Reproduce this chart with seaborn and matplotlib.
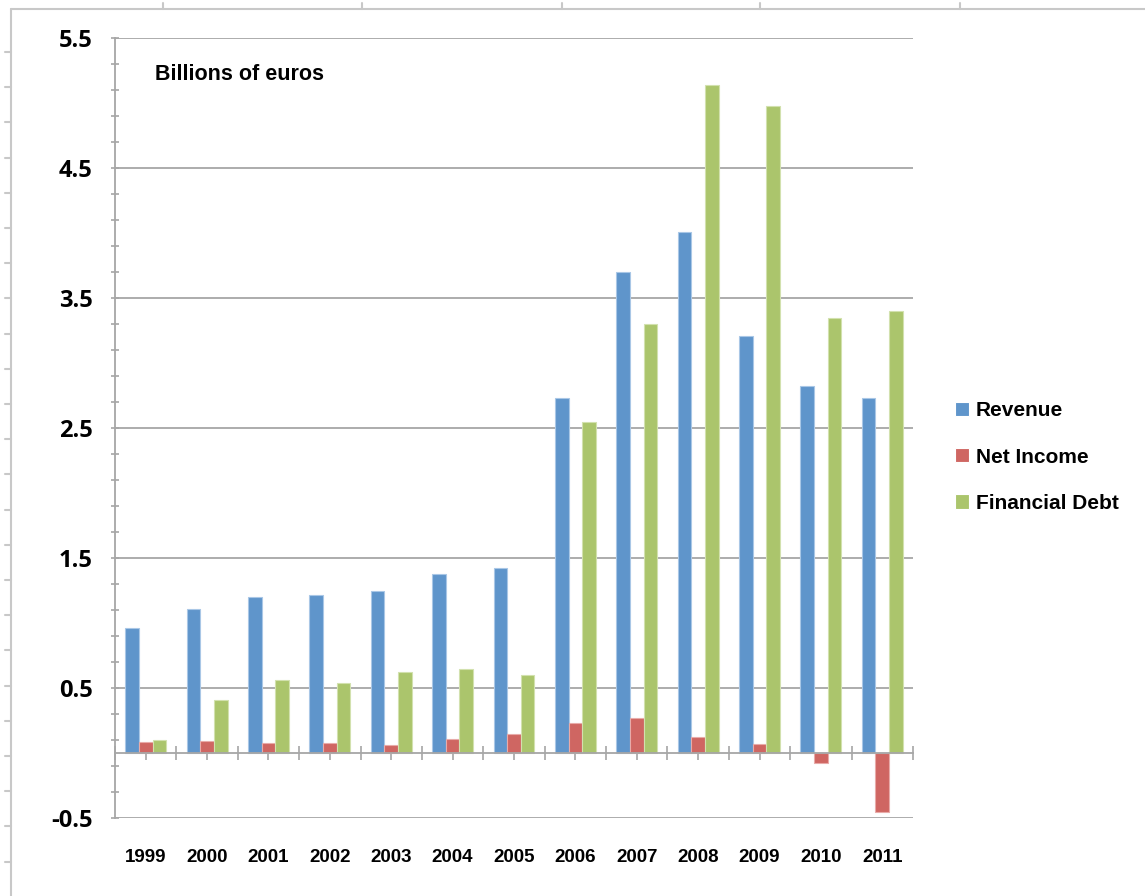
import numpy as np
import pandas as pd
import matplotlib
matplotlib.use("Agg")
import matplotlib.pyplot as plt
from matplotlib.lines import Line2D
from matplotlib.ticker import FixedLocator
import seaborn as sns

# Company figures, billions of euros
years = ["1999", "2000", "2001", "2002", "2003", "2004", "2005",
         "2006", "2007", "2008", "2009", "2010", "2011"]
revenue = [0.96, 1.11, 1.20, 1.215, 1.25, 1.38, 1.42,
           2.73, 3.70, 4.01, 3.21, 2.82, 2.73]
net_income = [0.085, 0.09, 0.08, 0.08, 0.06, 0.11, 0.15,
              0.23, 0.27, 0.12, 0.07, -0.08, -0.45]
financial_debt = [0.10, 0.41, 0.56, 0.54, 0.62, 0.65, 0.60,
                  2.55, 3.30, 5.14, 4.98, 3.35, 3.40]
series_names = ["Revenue", "Net Income", "Financial Debt"]
y_ticks = [-0.5, 0.5, 1.5, 2.5, 3.5, 4.5, 5.5]

colors = ["#5F95CB", "#CF6662", "#ABC56C"]
edge_colors = ["#A9C7E6", "#E8ABA9", "#D2E1AE"]
grey = "#A6A6A6"

df = pd.DataFrame({
    "year": years * 3,
    "series": np.repeat(series_names, len(years)),
    "value": revenue + net_income + financial_debt,
})

sns.set_style("white")
plt.rcParams["font.family"] = ["Liberation Sans", "DejaVu Sans"]
plt.rcParams["text.color"] = "black"
plt.rcParams["xtick.labelcolor"] = "black"
plt.rcParams["ytick.labelcolor"] = "black"

W, H = 1145, 896
fig = plt.figure(figsize=(W / 100, H / 100), dpi=100)
ax = fig.add_axes([115 / W, 1 - 818 / H, (913 - 115) / W, (818 - 38) / H])

sns.barplot(data=df, x="year", y="value", hue="series", order=years,
            hue_order=series_names, palette=colors, saturation=1,
            width=0.667, errorbar=None, ax=ax, linewidth=0.8)
for cont, ec in zip(ax.containers, edge_colors):
    for bar in cont:
        bar.set_edgecolor(ec)

ax.set_xlim(-0.5, len(years) - 0.5)
ax.set_ylim(-0.5, 5.5)
ax.set_xlabel("")
ax.set_ylabel("")

# y axis: major at x.5, minor every 0.2
ax.set_yticks(y_ticks)
ax.set_yticklabels([f"{v:.1f}" for v in y_ticks], fontfamily="Open Sans",
                   fontweight="bold", fontsize=17)
ax.yaxis.set_minor_locator(FixedLocator(np.arange(-0.5, 5.51, 0.2)))
ax.tick_params(axis="y", which="major", direction="inout", length=6,
               width=1.2, color=grey, pad=13, left=True)
ax.tick_params(axis="y", which="minor", direction="inout", length=6,
               width=1.2, color=grey, left=True)
ax.yaxis.grid(True, which="major", color=grey, linewidth=1.3)
ax.set_axisbelow(True)

# x axis sits at zero; year labels dropped below the plot
ax.spines["bottom"].set_position(("data", 0))
boundaries = np.arange(-0.5, len(years), 1.0)
centers = np.arange(len(years))
ax.set_xticks(boundaries)
ax.set_xticklabels([""] * len(boundaries))
ax.set_xticks(centers, minor=True)
ax.set_xticklabels(years, minor=True, fontweight="bold", fontsize=13.5)
ax.tick_params(axis="x", which="major", direction="inout", length=10,
               width=1.2, color=grey, bottom=True)
ax.tick_params(axis="x", which="minor", direction="out", length=5,
               width=1.2, color=grey, pad=64, bottom=True)

for side in ["top", "right"]:
    ax.spines[side].set_visible(False)
for side in ["left", "bottom"]:
    ax.spines[side].set_color(grey)
    ax.spines[side].set_linewidth(1.3)

ax.text(0.05, 0.9526, "Billions of euros", transform=ax.transAxes,
        va="center", ha="left", fontweight="bold", fontsize=15.5)

handles, labels = ax.get_legend_handles_labels()
ax.legend(handles, labels, loc="center left",
          bbox_to_anchor=(936 / W, 1 - 457 / H),
          bbox_transform=fig.transFigure, frameon=False,
          prop={"weight": "bold", "size": 15}, handlelength=0.7,
          handleheight=0.7, handletextpad=0.3, labelspacing=1.3)

# sheet frame around the chart
frame_kw = dict(color="#C8C8C8", linewidth=1.5, transform=None)
def fig_line(xs, ys):
    fig.add_artist(Line2D([x for x in xs], [H - y for y in ys], **frame_kw))
fig_line([11, W], [9, 9])
fig_line([11, 11], [9, H])
for x in [163, 362, 562, 760, 960]:
    fig_line([x, x], [3, 9])
for y in np.arange(52, H, 35.2):
    fig_line([5, 11], [y, y])

fig.savefig("out.png", dpi=100, facecolor="white")
